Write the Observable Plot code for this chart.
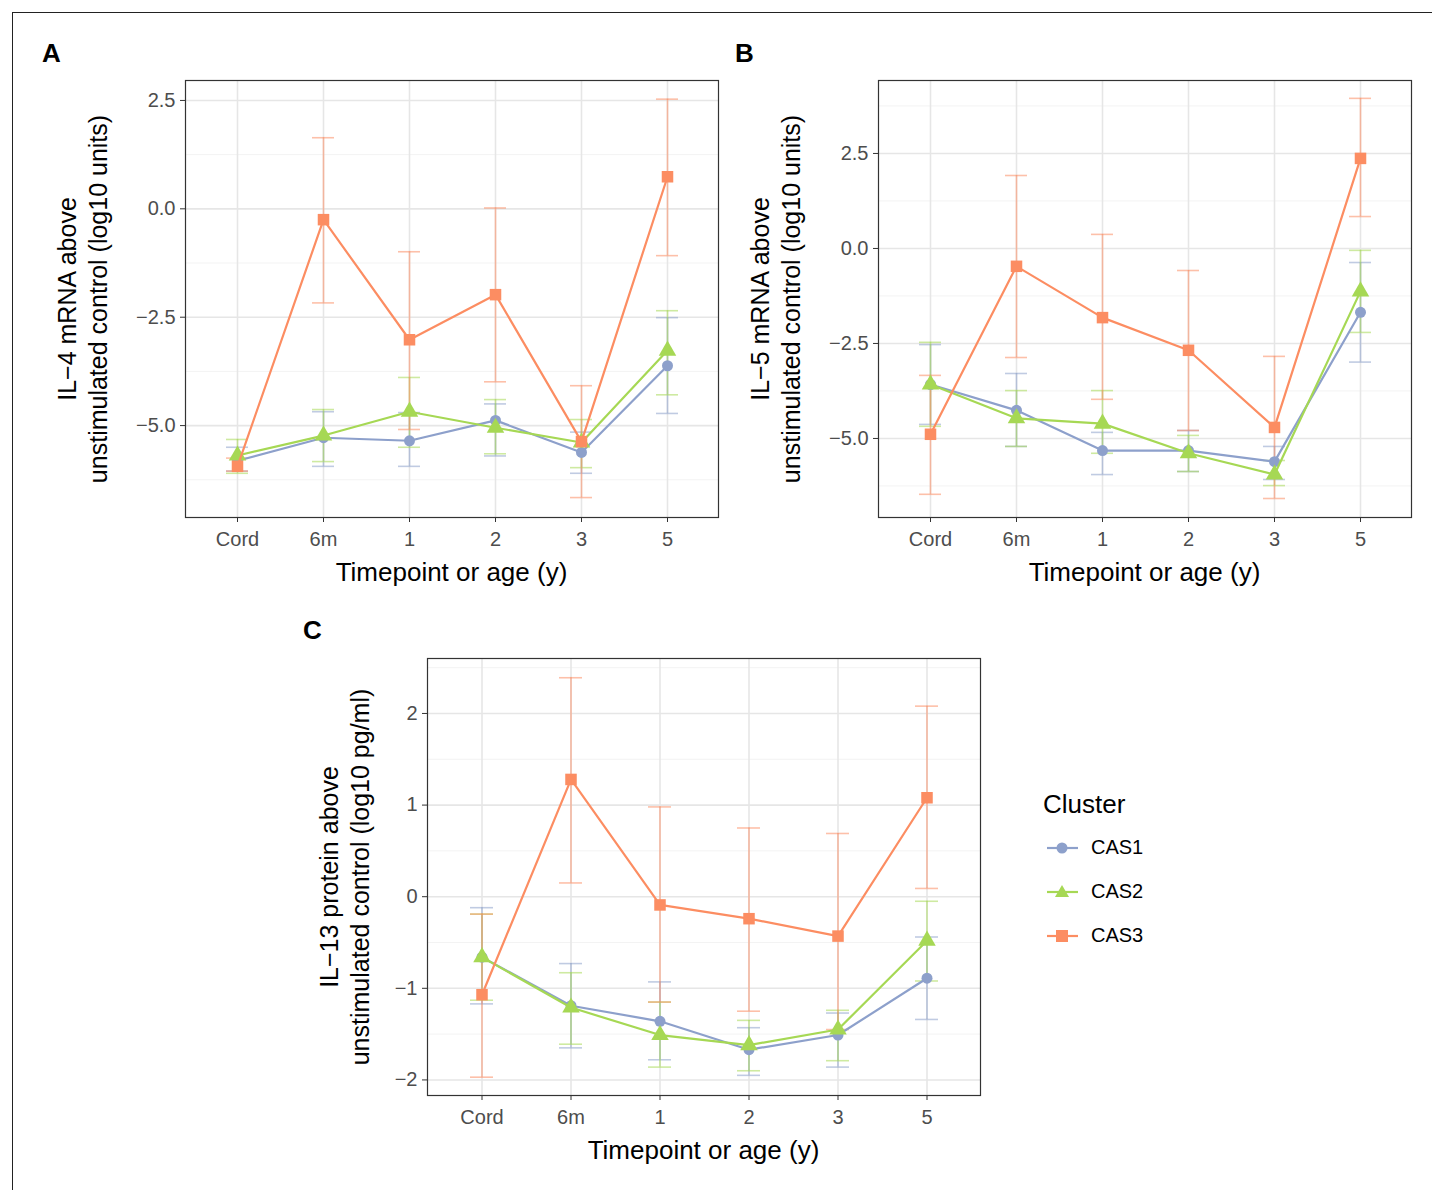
<!DOCTYPE html>
<html>
<head>
<meta charset="utf-8">
<script src="https://cdn.jsdelivr.net/npm/d3@7"></script>
<script src="https://cdn.jsdelivr.net/npm/@observablehq/plot@0.6"></script>
<style>
  body { margin:0; background:#fff; font-family:"Liberation Sans", Arial, sans-serif; }
  #root { position:relative; width:1432px; height:1190px; overflow:hidden; }
  .frame { position:absolute; left:12px; top:12px; width:1440px; height:1200px; border-top:1px solid #222; border-left:1px solid #222; }
  .tag { position:absolute; font-weight:bold; font-size:26px; }
  .ylab { position:absolute; font-size:25px; text-align:center; line-height:31px; white-space:nowrap; transform:translate(-50%,-50%) rotate(-90deg); }
  .xlab { position:absolute; font-size:26px; white-space:nowrap; transform:translateX(-50%); }
  .leg { position:absolute; font-size:20px; }
</style>
</head>
<body>
<div id="root"><div class="frame"></div></div>
<script>
// ----------------- data -----------------
const timepoints = ["Cord","6m","1","2","3","5"];
const clusters = ["CAS1","CAS2","CAS3"];
const colors = { CAS1:"#8DA0CB", CAS2:"#A6D854", CAS3:"#FC8D62" };
const symbols = { CAS1:"circle", CAS2:"triangle", CAS3:"square" };

// Panel A: IL-4 mRNA
const A_CAS1 = [-5.81,-5.28,-5.35,-4.88,-5.62,-3.62];
const A_CAS1_lo = [-6.05,-5.94,-5.94,-5.70,-6.10,-4.72];
const A_CAS1_hi = [-5.50,-4.68,-4.70,-4.50,-5.15,-2.51];
const A_CAS2 = [-5.69,-5.23,-4.68,-5.05,-5.39,-3.27];
const A_CAS2_lo = [-6.10,-5.83,-5.50,-5.65,-5.97,-4.29];
const A_CAS2_hi = [-5.32,-4.63,-3.89,-4.40,-4.86,-2.35];
const A_CAS3 = [-5.94,-0.25,-3.02,-1.98,-5.37,0.74];
const A_CAS3_lo = [-6.05,-2.17,-5.09,-3.99,-6.66,-1.08];
const A_CAS3_hi = [-5.75,1.64,-0.99,0.02,-4.08,2.53];

// Panel B: IL-5 mRNA
const B_CAS1 = [-3.58,-4.26,-5.32,-5.32,-5.61,-1.68];
const B_CAS1_lo = [-4.63,-5.21,-5.95,-5.87,-6.08,-2.99];
const B_CAS1_hi = [-2.53,-3.29,-4.84,-4.79,-5.21,-0.37];
const B_CAS2 = [-3.58,-4.47,-4.61,-5.39,-5.95,-1.13];
const B_CAS2_lo = [-4.68,-5.21,-5.39,-5.87,-6.24,-2.21];
const B_CAS2_hi = [-2.47,-3.74,-3.74,-4.92,-5.58,-0.05];
const B_CAS3 = [-4.89,-0.47,-1.82,-2.68,-4.71,2.37];
const B_CAS3_lo = [-6.47,-2.87,-3.97,-4.79,-6.58,0.84];
const B_CAS3_hi = [-3.34,1.92,0.37,-0.58,-2.84,3.95];

// Panel C: IL-13 protein
const C_CAS1 = [-0.66,-1.19,-1.36,-1.67,-1.51,-0.89];
const C_CAS1_lo = [-1.17,-1.65,-1.78,-1.95,-1.86,-1.34];
const C_CAS1_hi = [-0.12,-0.73,-0.93,-1.43,-1.27,-0.44];
const C_CAS2 = [-0.66,-1.21,-1.51,-1.62,-1.45,-0.48];
const C_CAS2_lo = [-1.13,-1.61,-1.86,-1.90,-1.79,-0.92];
const C_CAS2_hi = [-0.19,-0.83,-1.15,-1.35,-1.24,-0.05];
const C_CAS3 = [-1.07,1.28,-0.09,-0.24,-0.43,1.08];
const C_CAS3_lo = [-1.97,0.15,-1.15,-1.25,-1.45,0.09];
const C_CAS3_hi = [-0.19,2.39,0.98,0.75,0.69,2.08];

// --------------- helpers -----------------
function rows(means, lo, hi, cluster){
  return timepoints.map((t,i) => ({ t, cluster, y: means[i], lo: lo[i], hi: hi[i] }));
}
const root = document.getElementById("root");
function addDiv(cls, html, left, top){ const d=document.createElement("div"); d.className=cls; d.innerHTML=html; d.style.left=left+"px"; d.style.top=top+"px"; root.appendChild(d); }

function panel(o){
  const data = [
    ...rows(o.s[0][0], o.s[0][1], o.s[0][2], "CAS1"),
    ...rows(o.s[1][0], o.s[1][1], o.s[1][2], "CAS2"),
    ...rows(o.s[2][0], o.s[2][1], o.s[2][2], "CAS3")
  ];
  const mL = 70, mT = 10, mB = 35, mR = 10;
  const fig = Plot.plot({
    width: o.w + mL + mR, height: o.h + mT + mB,
    marginLeft: mL, marginTop: mT, marginBottom: mB, marginRight: mR,
    style: { fontFamily: "Liberation Sans, Arial, sans-serif", fontSize: "20px", color: "#4d4d4d", overflow:"visible" },
    x: { type:"band", domain: timepoints, paddingInner: 0.745, paddingOuter: 0.4625, label: null },
    y: { domain: o.ydom, label: null },
    marks: [
      Plot.ruleY(o.minor, { stroke:"#f3f3f3", strokeWidth:1 }),
      Plot.ruleY(o.ticks, { stroke:"#e6e6e6", strokeWidth:1.6 }),
      Plot.ruleX(timepoints, { x: d=>d, stroke:"#e6e6e6", strokeWidth:1.6 }),
      ...clusters.flatMap(c => {
        const d = data.filter(r => r.cluster === c);
        return [
          Plot.ruleX(d, { x:"t", y1:"lo", y2:"hi", stroke: colors[c], strokeOpacity:0.55, strokeWidth:1.6 }),
          Plot.tickY(d, { x:"t", y:"lo", stroke: colors[c], strokeOpacity:0.55, strokeWidth:1.6 }),
          Plot.tickY(d, { x:"t", y:"hi", stroke: colors[c], strokeOpacity:0.55, strokeWidth:1.6 })
        ];
      }),
      ...clusters.flatMap(c => {
        const d = data.filter(r => r.cluster === c);
        return [
          Plot.line(d, { x:"t", y:"y", stroke: colors[c], strokeWidth:2.2 }),
          Plot.dot(d, { x:"t", y:"y", fill: colors[c], symbol: symbols[c], r: c==="CAS1" ? 5.5 : 6.5 })
        ];
      }),
      Plot.axisY(o.ticks, { tickFormat: o.fmt, tickSize: 5, stroke:"#333", fill:"#4d4d4d", fontSize: 20, tickPadding: 5 }),
      Plot.axisX({ tickSize: 5, stroke:"#333", fill:"#4d4d4d", fontSize: 20, tickPadding: 9 }),
      Plot.frame({ stroke:"#333", strokeWidth:1.2 })
    ]
  });
  fig.style.position = "absolute";
  fig.style.left = (o.left - mL) + "px";
  fig.style.top = (o.top - mT) + "px";
  root.appendChild(fig);
  addDiv("tag", o.tag, o.tagX, o.tagY);
  addDiv("ylab", o.ylab, o.left - o.ylabOff, o.top + o.h/2);
  addDiv("xlab", "Timepoint or age (y)", o.left + o.w/2, o.top + o.h + 40);
}

const f1 = d3.format(".1f"), f0 = d3.format("d");
panel({ tag:"A", tagX:42, tagY:38, left:185, top:80, w:533, h:437, ylabOff:102,
  ydom:[-7.12, 2.96], ticks:[2.5,0,-2.5,-5], minor:[1.25,-1.25,-3.75,-6.25], fmt:f1,
  ylab:"IL−4 mRNA above<br>unstimulated control (log10 units)",
  s:[[A_CAS1,A_CAS1_lo,A_CAS1_hi],[A_CAS2,A_CAS2_lo,A_CAS2_hi],[A_CAS3,A_CAS3_lo,A_CAS3_hi]] });
panel({ tag:"B", tagX:735, tagY:38, left:878, top:80, w:533, h:437, ylabOff:102,
  ydom:[-7.08, 4.42], ticks:[2.5,0,-2.5,-5], minor:[3.75,1.25,-1.25,-3.75,-6.25], fmt:f1,
  ylab:"IL−5 mRNA above<br>unstimulated control (log10 units)",
  s:[[B_CAS1,B_CAS1_lo,B_CAS1_hi],[B_CAS2,B_CAS2_lo,B_CAS2_hi],[B_CAS3,B_CAS3_lo,B_CAS3_hi]] });
panel({ tag:"C", tagX:303, tagY:615, left:427, top:658, w:553, h:437, ylabOff:82,
  ydom:[-2.17, 2.6], ticks:[2,1,0,-1,-2], minor:[2.5,1.5,0.5,-0.5,-1.5], fmt:f0,
  ylab:"IL−13 protein above<br>unstimulated control (log10 pg/ml)",
  s:[[C_CAS1,C_CAS1_lo,C_CAS1_hi],[C_CAS2,C_CAS2_lo,C_CAS2_hi],[C_CAS3,C_CAS3_lo,C_CAS3_hi]] });

// legend
addDiv("leg", "<span style='font-size:26px'>Cluster</span>", 1043, 789);
const glyph = { CAS1:"<circle cx='17' cy='12' r='5.5'/>", CAS2:"<path d='M17 5 L24 17 L10 17 Z'/>", CAS3:"<rect x='11' y='6' width='12' height='12'/>" };
clusters.forEach((c,i) => {
  addDiv("leg",
    `<svg width="36" height="24" style="vertical-align:middle"><line x1="2" x2="33" y1="12" y2="12" stroke="${colors[c]}" stroke-width="2.2"/><g fill="${colors[c]}">${glyph[c]}</g></svg><span style="margin-left:10px;vertical-align:middle">${c}</span>`,
    1045, 835 + i*44);
});
</script>
</body>
</html>
